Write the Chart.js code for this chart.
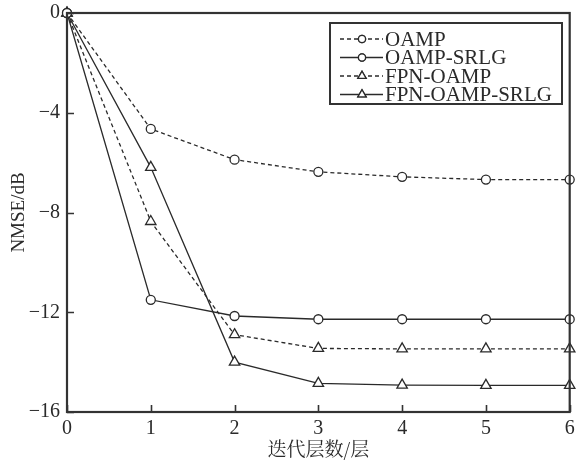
<!DOCTYPE html>
<html>
<head>
<meta charset="utf-8">
<script src="https://cdn.jsdelivr.net/npm/chart.js@4.4.1/dist/chart.umd.min.js"></script>
<style>
  html, body { margin: 0; padding: 0; background: #fff; }
  #wrap { position: relative; width: 577px; height: 463px; }
</style>
</head>
<body>
<div id="wrap"><canvas id="c" width="577" height="463"></canvas></div>
<script>
// Iteration layers on the x axis
const layers = ['0', '1', '2', '3', '4', '5', '6'];
// NMSE (dB) per layer for each detector
const oamp = [0, -4.65, -5.88, -6.37, -6.57, -6.68, -6.68];
const oampSrlg = [0, -11.5, -12.15, -12.28, -12.28, -12.28, -12.28];
const fpnOamp = [0, -8.36, -12.9, -13.45, -13.47, -13.47, -13.47];
const fpnOampSrlg = [0, -6.19, -14.0, -14.85, -14.92, -14.93, -14.93];
// y axis tick values
const yTicks = [0, -4, -8, -12, -16];

const INK = '#2a2a2a';
const SERIF = '"Liberation Serif", "Times New Roman", serif';

function series(label, data, dashed, shape) {
  return {
    label, data,
    borderColor: INK, borderWidth: 1.3,
    borderDash: dashed ? [4, 3] : [],
    pointStyle: shape,
    pointRadius: shape === 'triangle' ? 6 : 4.5,
    pointBorderWidth: 1.3,
    pointBackgroundColor: '#fff',
    pointBorderColor: INK,
    tension: 0, fill: false, clip: false
  };
}

// Plot frame, inward ticks and the in-plot legend
const decorations = {
  id: 'decorations',
  afterDatasetsDraw(chart) {
    const { ctx, chartArea: a, scales } = chart;
    ctx.save();
    ctx.strokeStyle = '#333';
    ctx.lineWidth = 1.6;
    ctx.setLineDash([]);
    ctx.beginPath();
    layers.forEach((_, i) => {
      const x = Math.round(scales.x.getPixelForValue(i)) + 0.5;
      ctx.moveTo(x, a.bottom); ctx.lineTo(x, a.bottom - 7);
    });
    yTicks.forEach(v => {
      const y = Math.round(scales.y.getPixelForValue(v)) + 0.5;
      ctx.moveTo(a.left, y); ctx.lineTo(a.left + 7, y);
    });
    ctx.stroke();
    ctx.lineWidth = 2.2;
    ctx.strokeRect(a.left, a.top, a.right - a.left, a.bottom - a.top);

    // legend box
    const bx = 330, by = 23, bw = 232, bh = 81;
    ctx.fillStyle = '#fff';
    ctx.fillRect(bx, by, bw, bh);
    ctx.lineWidth = 2;
    ctx.strokeRect(bx, by, bw, bh);
    ctx.font = '21px ' + SERIF;
    ctx.textBaseline = 'middle';
    ctx.textAlign = 'left';
    chart.data.datasets.forEach((ds, i) => {
      const y = by + 16 + i * 18.5;
      ctx.strokeStyle = INK;
      ctx.lineWidth = 1.3;
      ctx.setLineDash(ds.borderDash);
      ctx.beginPath();
      ctx.moveTo(340, y); ctx.lineTo(383, y);
      ctx.stroke();
      ctx.setLineDash([]);
      Chart.helpers.drawPoint(ctx, {
        pointStyle: ds.pointStyle,
        radius: ds.pointStyle === 'triangle' ? 4.8 : 3.6,
        rotation: 0, borderWidth: 1.2
      }, 362, y);
      ctx.fillStyle = '#fff';
      ctx.fill();
      ctx.stroke();
      ctx.fillStyle = INK;
      ctx.fillText(ds.label, 385, y + 1);
    });
    ctx.restore();
  }
};

new Chart(document.getElementById('c'), {
  type: 'line',
  data: {
    labels: layers,
    datasets: [
      series('OAMP', oamp, true, 'circle'),
      series('OAMP-SRLG', oampSrlg, false, 'circle'),
      series('FPN-OAMP', fpnOamp, true, 'triangle'),
      series('FPN-OAMP-SRLG', fpnOampSrlg, false, 'triangle')
    ]
  },
  options: {
    responsive: false,
    animation: false,
    layout: { padding: { left: 0, right: 4, top: 13, bottom: 0 } },
    plugins: { legend: { display: false }, tooltip: { enabled: false } },
    scales: {
      x: {
        type: 'category',
        offset: false,
        grid: { display: false },
        border: { display: false },
        ticks: { color: INK, font: { family: SERIF, size: 20 }, padding: -3, maxRotation: 0, autoSkip: false },
        title: { display: true, text: '迭代层数/层', color: INK,
                 font: { family: '"Noto Serif CJK SC", "Noto Sans CJK SC", serif', size: 19 },
                 padding: { top: 0, bottom: 3 } },
        afterFit(s) { s.height = 51; s.paddingLeft = 0; s.paddingRight = 0; }
      },
      y: {
        min: -16, max: 0,
        grid: { display: false },
        border: { display: false },
        afterBuildTicks(s) { s.ticks = yTicks.map(v => ({ value: v })); },
        ticks: {
          color: INK, font: { family: SERIF, size: 20 }, padding: -1,
          callback: v => String(v).replace('-', '\u2212')
        },
        title: { display: true, text: 'NMSE/dB', color: INK,
                 font: { family: SERIF, size: 19 }, padding: { top: 8, bottom: 0 } },
        afterFit(s) { s.width = 67; s.paddingTop = 0; s.paddingBottom = 0; }
      }
    }
  },
  plugins: [decorations]
});
</script>
</body>
</html>
